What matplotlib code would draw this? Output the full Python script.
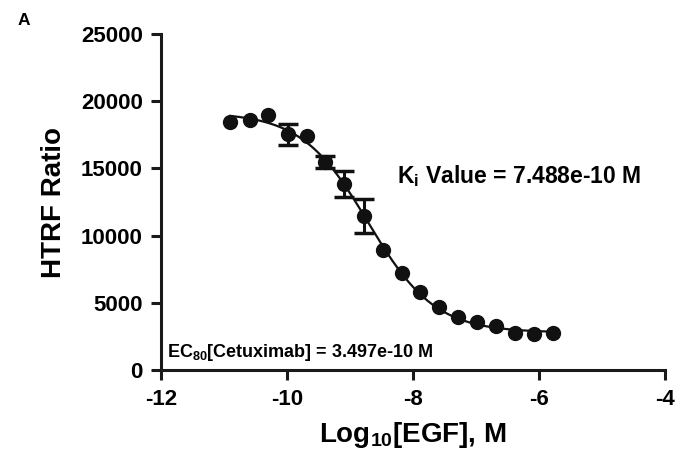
import numpy as np
import matplotlib
matplotlib.use("Agg")
import matplotlib.pyplot as plt

plt.rcParams['font.family'] = ['Liberation Sans', 'DejaVu Sans']
plt.rcParams['font.weight'] = 'bold'
plt.rcParams['axes.unicode_minus'] = False
plt.rcParams['mathtext.fontset'] = 'custom'
plt.rcParams['mathtext.rm'] = 'Liberation Sans:bold'
plt.rcParams['mathtext.bf'] = 'Liberation Sans:bold'
plt.rcParams['mathtext.default'] = 'rm'

# data
log_egf = [-10.90, -10.59, -10.30, -9.98, -9.68, -9.40, -9.10, -8.78, -8.48,
           -8.17, -7.89, -7.59, -7.29, -6.98, -6.68, -6.38, -6.08, -5.78]
htrf = [18450, 18600, 18950, 17560, 17450, 15500, 13840, 11460, 8930,
        7220, 5800, 4690, 3950, 3570, 3270, 2750, 2680, 2750]
htrf_err = [0, 0, 0, 780, 0, 450, 1000, 1230, 0,
            0, 0, 0, 0, 0, 0, 0, 0, 0]

ki_text = r'K$_{\mathregular{i}}$ Value = 7.488e-10 M'
ec_text = r'EC$_{\mathregular{80}}$[Cetuximab] = 3.497e-10 M'

x = np.array(log_egf)
y = np.array(htrf)
err = np.array(htrf_err)


# 4-parameter logistic fit (grid search on ec50/hill, linear solve for top/bottom)
def fit_4pl(x, y):
    best = None
    for lec in np.linspace(-10, -7.5, 251):
        for hill in np.linspace(-1.6, -0.4, 121):
            f = 1.0 / (1.0 + 10 ** ((lec - x) * hill))
            A = np.column_stack([np.ones_like(f), f])
            coef, *_ = np.linalg.lstsq(A, y, rcond=None)
            res = np.sum((A @ coef - y) ** 2)
            if best is None or res < best[0]:
                best = (res, lec, hill, coef)
    return best[1:]


lec, hill, coef = fit_4pl(x, y)
xs = np.linspace(x.min(), x.max(), 300)
ys = coef[0] + coef[1] / (1.0 + 10 ** ((lec - xs) * hill))

fig = plt.figure(figsize=(6.94, 4.55), dpi=100)
ax = fig.add_axes([0.232, 0.187, 0.726, 0.738])

ax.plot(xs, ys, color='#111111', lw=1.6)
has_err = err > 0
ax.errorbar(x[has_err], y[has_err], yerr=err[has_err], fmt='none',
            ecolor='#111111', elinewidth=2.2, capsize=7, capthick=2.5)
ax.plot(x, y, 'o', color='#111111', ms=10)

ax.set_xlim(-12, -4)
ax.set_ylim(0, 25000)
ax.set_xticks([-12, -10, -8, -6, -4])
ax.set_yticks([0, 5000, 10000, 15000, 20000, 25000])
for s in ['top', 'right']:
    ax.spines[s].set_visible(False)
for s in ['left', 'bottom']:
    ax.spines[s].set_linewidth(2.2)
    ax.spines[s].set_color('#1a1a1a')
ax.tick_params(width=2.2, length=7, labelsize=16, color='#1a1a1a')
ax.tick_params(axis='y', pad=6)
ax.tick_params(axis='x', pad=7)
for lab in ax.get_xticklabels() + ax.get_yticklabels():
    lab.set_fontweight('bold')

ax.set_ylabel('HTRF Ratio', fontsize=20, fontweight='bold', labelpad=10)
ax.set_xlabel(r'Log$_{\mathregular{10}}$[EGF], M', fontsize=20,
              fontweight='bold', labelpad=7)

ax.text(-8.25, 13900, ki_text, fontsize=16.5, fontweight='bold')
ax.text(-11.9, 950, ec_text, fontsize=13, fontweight='bold')
fig.text(0.026, 0.955, 'A', fontsize=12.5, fontweight='bold', va='center')

fig.savefig('out.png', dpi=100)
